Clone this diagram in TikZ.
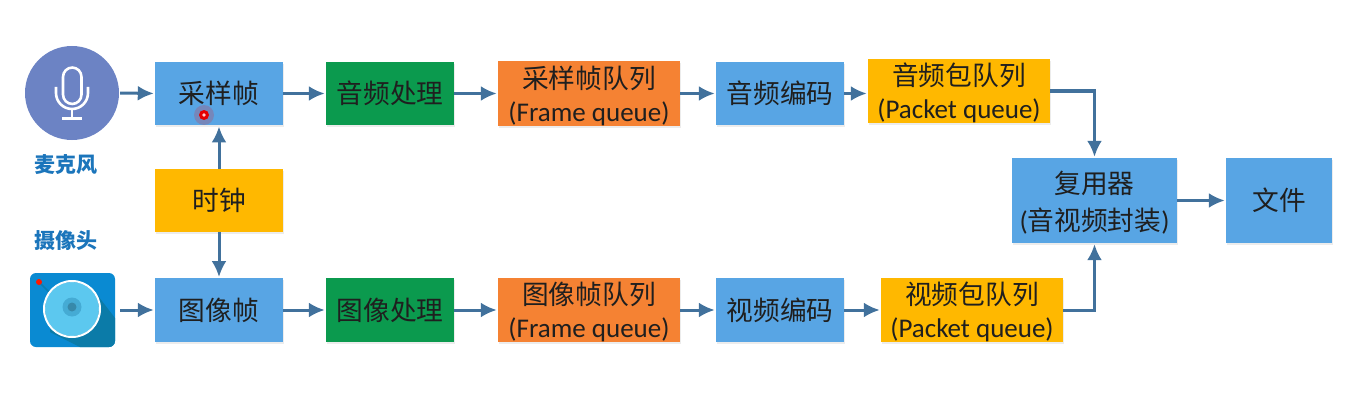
\documentclass[tikz,border=0pt]{standalone}
\usepackage{fontspec}
\setmainfont{Carlito}
\newfontfamily\cjk{Noto Sans CJK SC}
\newfontfamily\cjkb{Noto Sans CJK SC}[BoldFont={Noto Sans CJK SC Bold}]
\usetikzlibrary{arrows.meta,shadows}
\definecolor{boxblue}{HTML}{58A5E4}
\definecolor{boxgreen}{HTML}{0B9A4E}
\definecolor{boxorange}{HTML}{F58233}
\definecolor{boxyellow}{HTML}{FFB800}
\definecolor{linkblue}{HTML}{41719C}
\definecolor{labelblue}{HTML}{1B75BB}
\definecolor{micblue}{HTML}{6C83C4}
\definecolor{camblue}{HTML}{0A8AD2}
\definecolor{camdark}{HTML}{0B7BA8}
\definecolor{camlight}{HTML}{5CC8EF}
\definecolor{campupil}{HTML}{45ABD4}
\tikzset{
  x=1pt,y=-1pt,
  stagebox/.style={draw=none,inner sep=0pt,align=center,text=black!88,
    font=\fontsize{26.7}{34}\selectfont\cjk,
    drop shadow={opacity=.15,shadow xshift=1pt,shadow yshift=-2pt}},
  blue box/.style={stagebox,fill=boxblue},
  green box/.style={stagebox,fill=boxgreen},
  orange box/.style={stagebox,fill=boxorange},
  yellow box/.style={stagebox,fill=boxyellow},
  small/.style={minimum width=128pt,minimum height=63.5pt},
  wide/.style={minimum width=182pt,minimum height=64pt},
  link/.style={draw=linkblue,line width=3pt,-{Latex[length=16pt,width=15pt]},shorten >=1pt},
  source label/.style={text=labelblue,font=\fontsize{21}{25}\selectfont\cjk,inner sep=0pt},
  icon line/.style={draw=white,line width=2.6pt,fill=none},
}
\newcommand{\lat}[1]{{\fontsize{27}{34}\selectfont\rmfamily #1}}
\newcommand{\twolines}[3][-1pt]{\smash{\raisebox{-10.5pt}{\begin{tabular}{@{}c@{}}#2\\[#1]#3\end{tabular}}}}
\begin{document}
\begin{tikzpicture}
\useasboundingbox (0,0) rectangle (1347,412);
% top row
\node[blue box,small] (sframe) at (219,93.5) {采样帧};
\node[green box,small] (aproc) at (390,93.5) {音频处理};
\node[orange box,wide] (fqa) at (589,93.5) {\twolines{采样帧队列}{\lat{(Frame queue)}}};
\node[blue box,small] (aenc) at (780,93.5) {音频编码};
\node[yellow box,wide] (pqa) at (959,91) {\twolines{音频包队列}{\lat{(Packet queue)}}};
% clock
\node[yellow box,small] (clock) at (219,200.5) {时钟};
% bottom row
\node[blue box,small] (iframe) at (219,310) {图像帧};
\node[green box,small] (vproc) at (390,310) {图像处理};
\node[orange box,wide] (fqv) at (589,310) {\twolines{图像帧队列}{\lat{(Frame queue)}}};
\node[blue box,small] (venc) at (780,310) {视频编码};
\node[yellow box,wide] (pqv) at (972,310) {\twolines{视频包队列}{\lat{(Packet queue)}}};
% right
\node[blue box,minimum width=165pt,minimum height=85pt] (mux) at (1094.5,200.5) {\twolines[3pt]{复用器}{\lat{(}音视频封装\lat{)}}};
\node[blue box,minimum width=106pt,minimum height=85pt] (file) at (1279,200.5) {文件};
% microphone icon
\node[circle,fill=micblue,minimum size=94pt,inner sep=0pt] (mic) at (72,93) {};
\draw[icon line,rounded corners=9.4pt] (63,67.5) rectangle (81.5,104);
\draw[icon line] (56,87) -- (56,93) arc[start angle=180,end angle=0,x radius=16pt,y radius=-16pt] -- (88,87);
\draw[icon line] (72,109) -- (72,118);
\draw[icon line] (62,118.5) -- (82,118.5);
% camera icon
\node[fill=camblue,rounded corners=6pt,minimum width=85pt,minimum height=74pt,inner sep=0pt] (cam) at (72.5,310) {};
\begin{scope}
  \clip[rounded corners=6pt] (30,273) rectangle (115,347);
  \fill[camdark] (52,288) -- (92,288) -- (115,318) -- (115,347) -- (80,347) -- (50,332) -- cycle;
  \draw[camdark!80!camblue,line width=1.5pt] (39,282) -- (52,295);
\end{scope}
\fill[camlight] (72,309) circle[radius=27];
\draw[white,line width=2pt] (72,309) circle[radius=28];
\fill[campupil] (72,307) circle[radius=9.5];
\fill[campupil!80!black] (72,307) circle[radius=4.5];
\fill[red!80!orange] (39,282) circle[radius=3];
% source labels
\node[source label] (miclabel) at (66,165) {\bfseries 麦克风};
\node[source label] (camlabel) at (66,241) {\bfseries 摄像头};
% connectors
\draw[link] (mic.east) ++(1,0) -- (sframe.west);
\draw[link] (sframe) -- (aproc);
\draw[link] (aproc) -- (fqa);
\draw[link] (fqa) -- (aenc);
\draw[link] (aenc.east) -- (aenc.east -| pqa.west);
\draw[link] (clock) -- (sframe);
\draw[link] (clock) -- (iframe);
\draw[link] (cam.east) ++(5,0) -- (iframe.west);
\draw[link] (iframe) -- (vproc);
\draw[link] (vproc) -- (fqv);
\draw[link] (fqv) -- (venc);
\draw[link] (venc) -- (pqv);
\draw[link] (pqa.east) -| (mux.north);
\draw[link] (pqv.east) -| (mux.south);
\draw[link] (mux) -- (file);
% pointer mark
\fill[red,opacity=.18] (204,115) circle[radius=10];
\fill[red!90!black] (204,115) circle[radius=5];
\fill[white!80!red] (204,115) circle[radius=1.8];
\end{tikzpicture}
\end{document}
